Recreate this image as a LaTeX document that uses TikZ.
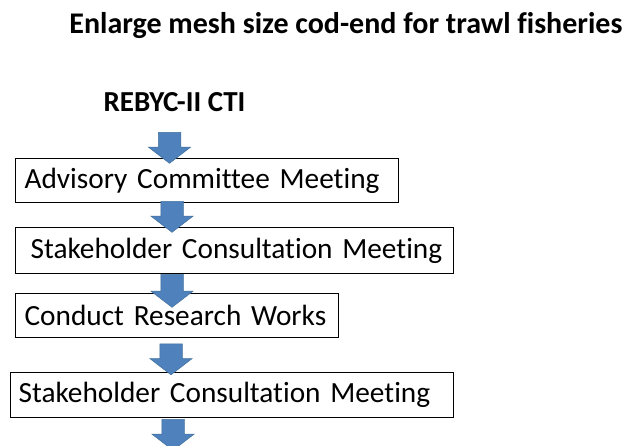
\documentclass[tikz,border=0pt]{standalone}
\usepackage{fontspec}
\setmainfont{Carlito}[Ligatures=CommonOff]
\usetikzlibrary{shapes.arrows}
\definecolor{arrblue}{HTML}{4F81BD}
\definecolor{arredge}{HTML}{41719C}

\begin{document}
\begin{tikzpicture}[x=1pt, y=-1pt,
	stepbox/.style={draw, line width=1.2pt, anchor=north west, align=left, inner ysep=0pt, font=\fontsize{29.3}{31}\selectfont},
	downarr/.style={single arrow, rotate=-90, fill=arrblue, draw=arredge, line width=0.5pt, minimum height=31pt, single arrow head extend=10pt, single arrow tip angle=105, inner xsep=0pt, inner ysep=11pt}]
		\useasboundingbox (0,0) rectangle (626,445);
		% heading and source
		\node[anchor=base, font=\bfseries\fontsize{30}{32}\selectfont] (title) at (346,33) {Enlarge mesh size cod-end for trawl fisheries};
		\node[anchor=base west, font=\bfseries\fontsize{29}{31}\selectfont] (rebyc) at (100,111) {REBYC-II CTI};
		% steps
		\node[stepbox, inner xsep=9pt, text width=365pt, minimum height=44pt] (advisory) at (15,158) {\mbox{Advisory Committee Meeting}};
		\node[stepbox, inner xsep=15pt, text width=408pt, minimum height=46pt] (consult1) at (15,227) {\mbox{Stakeholder Consultation Meeting}};
		\node[stepbox, inner xsep=9pt, text width=305pt, minimum height=44pt] (research) at (15,293) {\mbox{Conduct Research Works}};
		\node[stepbox, inner xsep=8pt, text width=427pt, minimum height=45pt] (consult2) at (10,372) {\mbox{Stakeholder Consultation Meeting}};
		% block arrows, drawn over the boxes
		\node[downarr] (a1) at (169.5,143.5) {};
		\node[downarr] (a2) at (172,212.5) {};
		\node[downarr, minimum height=33pt] (a3) at (172,286.5) {};
		\node[downarr] (a4) at (171,355) {};
		\node[downarr] (a5) at (173,430.5) {};
	\end{tikzpicture}
\end{document}
